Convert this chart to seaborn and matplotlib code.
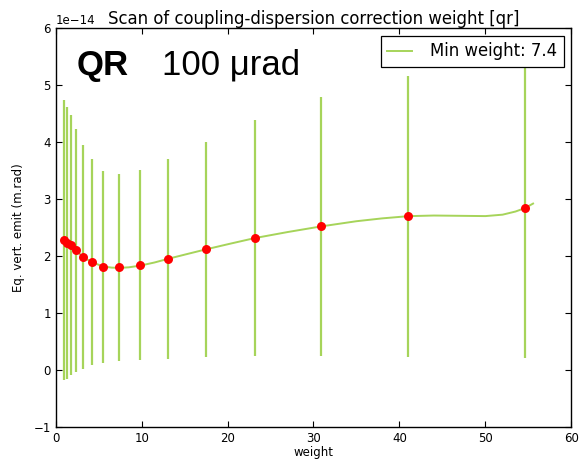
import matplotlib
matplotlib.use("Agg")
import matplotlib.pyplot as plt
import seaborn as sns
import pandas as pd

# Scan points: correction weight, equilibrium vertical emittance and its error (units of 1e-14 m.rad)
weights = [0.97, 1.35, 1.78, 2.36, 3.14, 4.19, 5.53, 7.36, 9.84, 13.09, 17.44, 23.14, 30.85, 41.05, 54.6]
emit = [2.278, 2.232, 2.185, 2.097, 1.986, 1.891, 1.810, 1.798, 1.838, 1.951, 2.114, 2.313, 2.518, 2.699, 2.840]
emit_err = [2.455, 2.39, 2.285, 2.139, 1.97, 1.804, 1.69, 1.647, 1.67, 1.757, 1.89, 2.074, 2.279, 2.471, 2.63]

# Smooth fit through the scan
fit_w = [0.97, 1.35, 1.78, 2.36, 3.14, 4.19, 5.53, 6.5, 7.4, 8.5, 9.84, 11.5, 13.09, 15.2, 17.44,
         20.3, 23.14, 27.0, 30.85, 35.0, 38.0, 41.05, 44.0, 47.0, 50.0, 52.0, 53.5, 54.6, 55.55]
fit_e = [2.278, 2.232, 2.185, 2.097, 1.986, 1.891, 1.815, 1.795, 1.790, 1.800, 1.830, 1.885, 1.950,
         2.030, 2.114, 2.215, 2.313, 2.420, 2.518, 2.610, 2.660, 2.699, 2.710, 2.705, 2.700, 2.725,
         2.780, 2.840, 2.920]

min_weight = 7.4
scale = 1e-14

green = "#a6d45a"

scan = pd.DataFrame({"weight": weights,
                     "emit": [v * scale for v in emit],
                     "err": [v * scale for v in emit_err]})
fit = pd.DataFrame({"weight": fit_w, "emit": [v * scale for v in fit_e]})

plt.rcParams["font.family"] = ["DejaVu Sans"]

fig = plt.figure(figsize=(5.79, 4.65), dpi=100)
ax = fig.add_axes([0.0962, 0.0824, 0.8905, 0.8568])

ax.errorbar(scan["weight"], scan["emit"], yerr=scan["err"], fmt="none",
            ecolor=green, elinewidth=1.6, capsize=0, zorder=1)
sns.lineplot(data=fit, x="weight", y="emit", ax=ax, color=green, linewidth=1.4,
             label=f"Min weight: {min_weight}", zorder=2, sort=False)
sns.scatterplot(data=scan, x="weight", y="emit", ax=ax, color="red", s=42,
                edgecolor="red", linewidth=0, zorder=3, legend=False)

ax.set_xlim(0, 60)
ax.set_ylim(-1 * scale, 6 * scale)
ax.set_xticks([0, 10, 20, 30, 40, 50, 60])
ax.set_yticks([v * scale for v in range(-1, 7)])

ax.tick_params(direction="in", top=True, right=True, labelsize=8.5, length=4, width=0.8)
for s in ax.spines.values():
    s.set_linewidth(1.0)
    s.set_color("black")
ax.yaxis.get_offset_text().set_fontsize(8.5)

ax.set_xlabel("weight", fontsize=8.5, labelpad=1)
ax.set_ylabel("Eq. vert. emit (m.rad)", fontsize=8.5, labelpad=6)
ax.set_title("Scan of coupling-dispersion correction weight [qr]", fontsize=11.9, pad=3)

leg = ax.legend(loc="upper right", fontsize=11.9, frameon=True, fancybox=False,
                edgecolor="black", framealpha=1, handlelength=1.5, handletextpad=1.1,
                borderpad=0.4, borderaxespad=0.45)
leg.get_frame().set_linewidth(0.9)

ax.text(0.041, 0.883, "QR", transform=ax.transAxes, fontsize=25, fontweight="bold",
        family="Liberation Sans", va="baseline", ha="left")
ax.text(0.206, 0.883, "100 \u03bcrad", transform=ax.transAxes, fontsize=25,
        family="Liberation Sans", va="baseline", ha="left")

fig.savefig("out.png", dpi=100)
